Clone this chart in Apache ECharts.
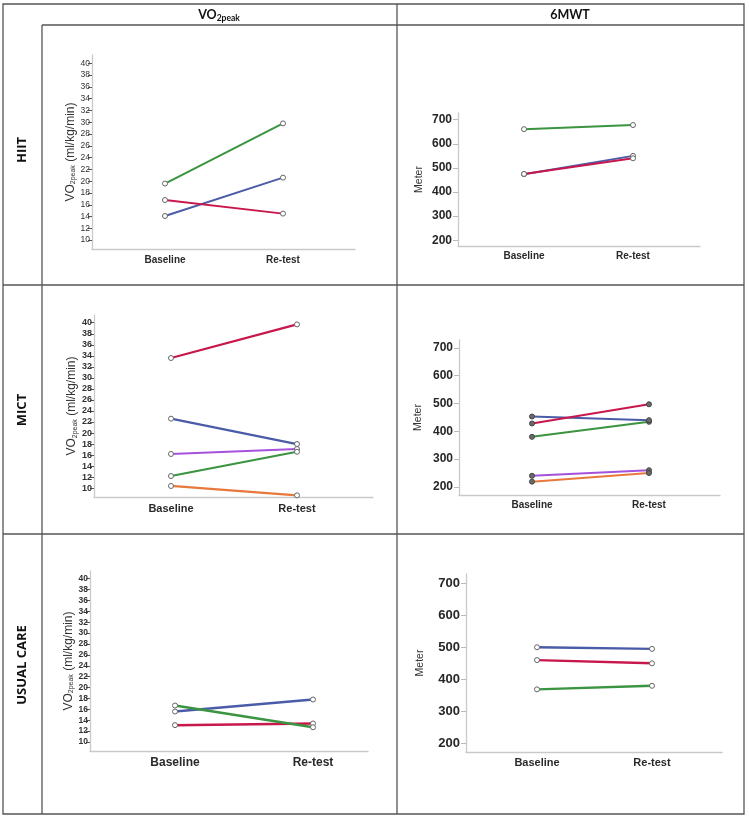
<!DOCTYPE html>
<html>
<head>
<meta charset="utf-8">
<script src="https://cdn.jsdelivr.net/npm/echarts@6/dist/echarts.min.js"></script>
<style>
html,body{margin:0;padding:0;background:#fff;}
#chart{width:749px;height:819px;}
</style>
</head>
<body>
<div id="chart"></div>
<script>
// ---------- data ----------
const categories = ['Baseline', 'Re-test'];
const columnHeaders = ['VO2peak', '6MWT'];
const rowLabels = ['HIIT', 'MICT', 'USUAL CARE'];
const vo2Ticks = [10, 12, 14, 16, 18, 20, 22, 24, 26, 28, 30, 32, 34, 36, 38, 40];
const mwtTicks = [200, 300, 400, 500, 600, 700];

// HIIT – VO2peak
const hiitVo2Green = [19.6, 29.8];
const hiitVo2Blue = [14.1, 20.6];
const hiitVo2Red = [16.8, 14.5];
// HIIT – 6MWT
const hiitMwtGreen = [661, 678];
const hiitMwtBlue = [474, 550];
const hiitMwtRed = [475, 540];
// MICT – VO2peak
const mictVo2Red = [33.6, 39.7];
const mictVo2Blue = [22.6, 18.0];
const mictVo2Purple = [16.2, 17.1];
const mictVo2Green = [12.2, 16.6];
const mictVo2Orange = [10.4, 8.7];
// MICT – 6MWT
const mictMwtPurple = [240, 260];
const mictMwtOrange = [219, 250];
const mictMwtGreen = [380, 434];
const mictMwtBlue = [453, 440];
const mictMwtRed = [428, 497];
// Usual care – VO2peak
const ucVo2Red = [13.1, 13.4];
const ucVo2Blue = [15.6, 17.8];
const ucVo2Green = [16.7, 12.7];
// Usual care – 6MWT
const ucMwtBlue = [500, 495];
const ucMwtRed = [460, 450];
const ucMwtGreen = [369, 380];

// ---------- styles / layout ----------
const COL = {
  green: '#3a9440',
  blue: '#4a5ca8',
  red: '#c8174b',
  purple: '#a452dc',
  orange: '#e8783c'
};
const FONT = 'Liberation Sans, Arial, sans-serif';

const panels = [
  {L: 92, R: 355, T: 55, B: 249, yMin: 8.5, yMax: 41.4, bx: 165, rx: 283, kind: 'vo2',
   tickFont: 8.5, tickBold: 'normal', catFont: 10, nameGap: 14, nameFont: 12, lw: 2, mk: 'open',
   lines: [[hiitVo2Green, 'green'], [hiitVo2Blue, 'blue'], [hiitVo2Red, 'red']]},
  {L: 458, R: 700, T: 113, B: 246, yMin: 176, yMax: 728, bx: 524, rx: 633, kind: 'mwt',
   tickFont: 12, tickBold: 'bold', catFont: 10, nameGap: 33, nameFont: 10.5, lw: 2, mk: 'open',
   lines: [[hiitMwtGreen, 'green'], [hiitMwtBlue, 'blue'], [hiitMwtRed, 'red']]},
  {L: 94, R: 373, T: 315, B: 497, yMin: 8.4, yMax: 41.4, bx: 171, rx: 297, kind: 'vo2',
   tickFont: 9, tickBold: 'bold', catFont: 11, nameGap: 14, nameFont: 12, lw: 2.2, mk: 'open',
   lines: [[mictVo2Red, 'red'], [mictVo2Blue, 'blue'], [mictVo2Purple, 'purple'], [mictVo2Green, 'green'], [mictVo2Orange, 'orange']]},
  {L: 459, R: 720, T: 340, B: 495, yMin: 171, yMax: 728, bx: 532, rx: 649, kind: 'mwt',
   tickFont: 12, tickBold: 'bold', catFont: 10, nameGap: 35, nameFont: 10.5, lw: 2, mk: 'filled',
   lines: [[mictMwtPurple, 'purple'], [mictMwtOrange, 'orange'], [mictMwtGreen, 'green'], [mictMwtBlue, 'blue'], [mictMwtRed, 'red']]},
  {L: 90, R: 368, T: 571, B: 751, yMin: 8.35, yMax: 41.4, bx: 175, rx: 313, kind: 'vo2',
   tickFont: 8.5, tickBold: 'bold', catFont: 12, nameGap: 14, nameFont: 12, lw: 2.5, mk: 'open',
   lines: [[ucVo2Red, 'red'], [ucVo2Blue, 'blue'], [ucVo2Green, 'green']]},
  {L: 466, R: 722, T: 574, B: 752, yMin: 174, yMax: 728, bx: 537, rx: 652, kind: 'mwt',
   tickFont: 13, tickBold: 'bold', catFont: 11, nameGap: 40, nameFont: 10.5, lw: 2.4, mk: 'open',
   lines: [[ucMwtBlue, 'blue'], [ucMwtRed, 'red'], [ucMwtGreen, 'green']]}
];

const grids = [], xAxes = [], yAxes = [], series = [];
panels.forEach((p, i) => {
  const span = p.rx - p.bx;
  grids.push({left: p.L, top: p.T, width: p.R - p.L, height: p.B - p.T, containLabel: false});
  xAxes.push({
    type: 'value', gridIndex: i,
    min: -(p.bx - p.L) / span, max: 1 + (p.R - p.rx) / span,
    axisLine: {show: true, onZero: false, lineStyle: {color: '#c9c9c9', width: 1.3}},
    axisTick: {show: false},
    splitLine: {show: false},
    axisLabel: {
      customValues: [0, 1],
      formatter: v => categories[Math.round(v)],
      fontFamily: FONT, fontSize: p.catFont, fontWeight: 'bold', color: '#2a2a2a',
      margin: p.kind === 'vo2' ? 6 : 5
    }
  });
  const isVo2 = p.kind === 'vo2';
  const ticks = isVo2 ? vo2Ticks : mwtTicks;
  yAxes.push({
    type: 'value', gridIndex: i, min: p.yMin, max: p.yMax,
    name: isVo2 ? '{a|VO}{b|2peak}{a| (ml/kg/min)}' : 'Meter',
    nameLocation: 'middle', nameGap: p.nameGap, nameRotate: 90,
    nameTextStyle: isVo2 ? {
      color: '#333', fontFamily: FONT,
      rich: {
        a: {fontSize: p.nameFont, color: '#333', fontFamily: FONT},
        b: {fontSize: 7, color: '#333', fontFamily: FONT, verticalAlign: 'bottom', lineHeight: 10}
      }
    } : {color: '#333', fontFamily: FONT, fontSize: p.nameFont},
    axisLine: {show: true, onZero: false, lineStyle: {color: '#c9c9c9', width: 1.3}},
    axisTick: {show: true, customValues: ticks, length: isVo2 ? 4 : 5,
      lineStyle: {color: isVo2 ? '#555' : '#bbb', width: 1}},
    splitLine: {show: false},
    axisLabel: {
      customValues: ticks,
      fontFamily: FONT, fontSize: p.tickFont, fontWeight: p.tickBold,
      color: isVo2 ? '#333' : '#262626', margin: isVo2 ? 2 : 6
    }
  });
  p.lines.forEach(([arr, c]) => {
    series.push({
      type: 'line', xAxisIndex: i, yAxisIndex: i,
      data: arr.map((v, k) => [k, v]),
      symbol: 'circle', symbolSize: 5, showSymbol: true,
      lineStyle: {color: COL[c], width: p.lw},
      itemStyle: p.mk === 'filled'
        ? {color: '#6a6a6a', borderColor: '#444', borderWidth: 1}
        : {color: '#fff', borderColor: '#666', borderWidth: 1},
      emphasis: {disabled: true},
      silent: true, z: 3
    });
  });
});

// ---------- table frame ----------
const LINE = {stroke: '#555', lineWidth: 1.3};
const ln = (x1, y1, x2, y2) => ({type: 'line', shape: {x1, y1, x2, y2}, style: LINE, silent: true, z: 10});
const graphic = [
  {type: 'rect', shape: {x: 3, y: 4, width: 741, height: 810}, style: {fill: 'none', stroke: '#555', lineWidth: 1.3}, silent: true, z: 10},
  ln(42, 25, 42, 814),
  ln(397, 4, 397, 814),
  ln(42, 25, 744, 25),
  ln(3, 285, 744, 285),
  ln(3, 534, 744, 534),
  {type: 'text', x: 219, y: 15, z: 11, style: {
    text: '{a|VO}{b|2peak}', align: 'center', verticalAlign: 'middle', fill: '#111',
    rich: {
      a: {fontSize: 12.5, fontWeight: 'bold', fontFamily: 'Lato, Open Sans, sans-serif', fill: '#111'},
      b: {fontSize: 8.5, fontWeight: 'bold', fontFamily: 'Lato, Open Sans, sans-serif', fill: '#111', verticalAlign: 'bottom', lineHeight: 15}
    }
  }},
  {type: 'text', x: 570, y: 15, z: 11, style: {
    text: columnHeaders[1], align: 'center', verticalAlign: 'middle', fill: '#111',
    font: 'bold 12.5px Lato, Open Sans, sans-serif'
  }},
  {type: 'text', x: 22, y: 150, rotation: Math.PI / 2, z: 11, style: {
    text: rowLabels[0], align: 'center', verticalAlign: 'middle', fill: '#111',
    font: 'bold 13px Open Sans, sans-serif'}},
  {type: 'text', x: 22, y: 410, rotation: Math.PI / 2, z: 11, style: {
    text: rowLabels[1], align: 'center', verticalAlign: 'middle', fill: '#111',
    font: 'bold 13px Open Sans, sans-serif'}},
  {type: 'text', x: 22, y: 665, rotation: Math.PI / 2, z: 11, style: {
    text: rowLabels[2], align: 'center', verticalAlign: 'middle', fill: '#111',
    font: 'bold 13px Open Sans, sans-serif'}}
];

const chart = echarts.init(document.getElementById('chart'), null, {renderer: 'canvas'});
chart.setOption({
  animation: false,
  backgroundColor: '#fff',
  grid: grids, xAxis: xAxes, yAxis: yAxes, series: series,
  graphic: graphic
});
</script>
</body>
</html>
